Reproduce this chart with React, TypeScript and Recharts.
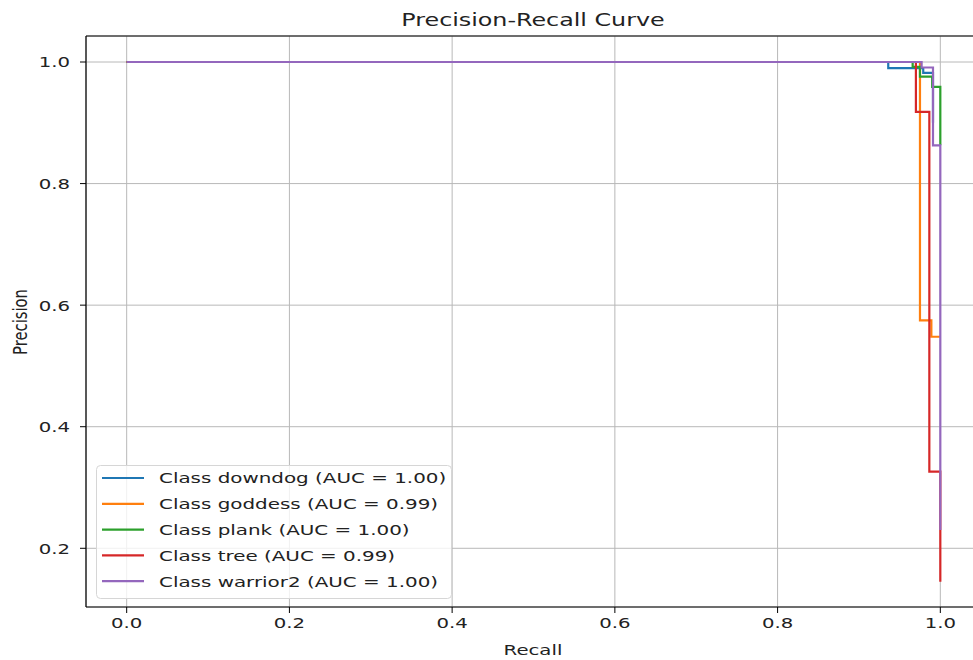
import React from 'react';
import { LineChart, Line, XAxis, YAxis, CartesianGrid, ReferenceLine, Legend } from 'recharts';

// the source figure is squeezed vertically, so text gets a y-scale
const SY = 0.75;
const FONT = '"DejaVu Sans", sans-serif';

const classNames = ['downdog', 'goddess', 'plank', 'tree', 'warrior2'];
const aucValues = ['1.00', '0.99', '1.00', '0.99', '1.00'];
const colors = ['#1f77b4', '#ff7f0e', '#2ca02c', '#d62728', '#9467bd'];

const recallDowndog = [0, 0.936, 0.979, 0.991];
const precisionDowndog = [1, 0.99, 0.982, 0.9];
const recallGoddess = [0, 0.975, 0.989, 1.0];
const precisionGoddess = [1, 0.575, 0.548, 0.548];
const recallPlank = [0, 0.966, 0.975, 0.99, 1.0];
const precisionPlank = [1, 0.992, 0.976, 0.959, 0.863];
const recallTree = [0, 0.97, 0.9865, 1.0];
const precisionTree = [1, 0.918, 0.326, 0.145];
const recallWarrior2 = [0, 0.977, 0.991, 1.0];
const precisionWarrior2 = [1, 0.991, 0.863, 0.23];

const xTicks = [0, 0.2, 0.4, 0.6, 0.8, 1.0];
const yTicks = [0.2, 0.4, 0.6, 0.8, 1.0];
const X_DOMAIN = [-0.05, 1.05];
const Y_DOMAIN = [0.1034, 1.0428];

const curves = [
  [recallDowndog, precisionDowndog],
  [recallGoddess, precisionGoddess],
  [recallPlank, precisionPlank],
  [recallTree, precisionTree],
  [recallWarrior2, precisionWarrior2],
].map(([rs, ps]) => rs.map((r, i) => ({ r, p: ps[i] })));

function Txt({ x, y, size, anchor = 'start', rotate = false, children }: any) {
  const t = rotate
    ? `translate(${x},${y}) rotate(-90) scale(${SY},1)`
    : `translate(${x},${y}) scale(1,${SY})`;
  return (
    <text transform={t} fontSize={size} fontFamily={FONT} fill="#222" textAnchor={anchor}>
      {children}
    </text>
  );
}

const XTick = ({ x, y, payload }: any) => (
  <Txt x={x} y={y + 13} size={19.7} anchor="middle">{payload.value.toFixed(1)}</Txt>
);

const YTick = ({ x, y, payload }: any) => (
  <Txt x={x} y={y + 5.4} size={19.7} anchor="end">{payload.value.toFixed(1)}</Txt>
);

function LegendBox() {
  const rowH = 25.8;
  return (
    <svg width={358} height={136} style={{ display: 'block' }}>
      <rect x={0.5} y={0.5} width={355} height={133} rx={4} fill="#fff" fillOpacity={0.8} stroke="#d6d6d6" />
      {classNames.map((name, i) => {
        const cy = 13 + i * rowH;
        return (
          <g key={name}>
            <line x1={6} x2={48} y1={cy} y2={cy} stroke={colors[i]} strokeWidth={2.2} />
            <Txt x={63} y={cy + 5.4} size={19.9}>{`Class ${name} (AUC = ${aucValues[i]})`}</Txt>
          </g>
        );
      })}
    </svg>
  );
}

export default function App() {
  return (
    <div style={{ position: 'absolute', left: 0, top: 0, width: 973, height: 660, overflow: 'hidden', background: '#fff' }}>
      <LineChart width={1000} height={660} margin={{ top: 36, right: 19, left: 0, bottom: 0 }}>
        <CartesianGrid stroke="#b8b8b8" strokeWidth={1} />
        <XAxis
          dataKey="r"
          type="number"
          domain={X_DOMAIN}
          allowDataOverflow
          ticks={xTicks}
          height={53}
          axisLine={{ stroke: '#000', strokeWidth: 1.2 }}
          tickLine={{ stroke: '#000' }}
          tickSize={6}
          tick={<XTick />}
        />
        <YAxis
          type="number"
          domain={Y_DOMAIN}
          allowDataOverflow
          ticks={yTicks}
          width={86}
          axisLine={{ stroke: '#000', strokeWidth: 1.2 }}
          tickLine={{ stroke: '#000' }}
          tickSize={6}
          tickMargin={10}
          tick={<YTick />}
        />
        <ReferenceLine y={Y_DOMAIN[1]} stroke="#000" strokeWidth={1.2} />
        {curves.map((d, i) => (
          <Line
            key={classNames[i]}
            data={d}
            dataKey="p"
            type="stepAfter"
            stroke={colors[i]}
            strokeWidth={2.2}
            dot={false}
            activeDot={false}
            isAnimationActive={false}
          />
        ))}
        <Legend
          layout="horizontal"
          verticalAlign="middle"
          align="center"
          content={() => <LegendBox />}
          wrapperStyle={{ left: 96, top: 465, width: 358, height: 136 }}
        />
        <Txt x={533} y={26} size={23.8} anchor="middle">Precision-Recall Curve</Txt>
        <Txt x={533} y={655} size={19.7} anchor="middle">Recall</Txt>
        <Txt x={27} y={322} size={19.7} anchor="middle" rotate>Precision</Txt>
      </LineChart>
    </div>
  );
}
